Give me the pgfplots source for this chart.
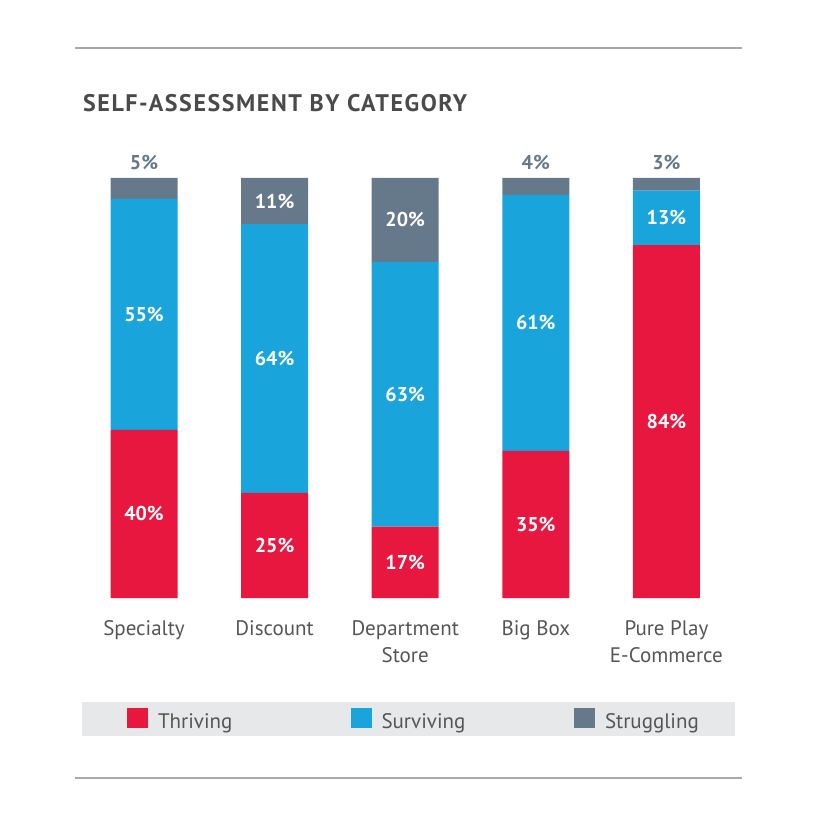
\documentclass[border=0pt]{standalone}
\usepackage{fontspec}
\setmainfont{PT Sans}
\newfontfamily\titlefont[LetterSpace=6.5]{PT Sans Bold}
\usepackage{pgfplots}
\pgfplotsset{compat=1.18}
\usepackage{pgfplotstable}

\definecolor{thriving}{HTML}{E8173F}
\definecolor{surviving}{HTML}{19A4DB}
\definecolor{struggling}{HTML}{66798B}
\definecolor{legendbg}{HTML}{E7E8EA}
\definecolor{titlegray}{HTML}{4A4A4A}
\definecolor{labelgray}{HTML}{555555}
\definecolor{rulegray}{HTML}{AAAAAA}

% share of respondents, per category
\pgfplotstableread{
x thriving surviving struggling
0 40 55 5
1 25 64 11
2 17 63 20
3 35 61 4
4 84 13 3
}\shares

% labels set inside the segments (y = middle of segment)
\pgfplotstableread{
x y v
0 20 40
0 67.5 55
1 12.5 25
1 57 64
1 94.5 11
2 8.5 17
2 48.5 63
2 90 20
3 17.5 35
3 65.5 61
4 42 84
4 90.5 13
}\inlabels

% small segments get their label above the bar
\pgfplotstableread{
x y v
0 103.8 5
3 103.8 4
4 103.8 3
}\toplabels

\begin{document}
\begin{tikzpicture}
\path (0pt,0pt) rectangle (830pt,825pt);
\draw[rulegray, line width=1.3pt] (75pt,777pt) -- (742pt,777pt);
\draw[rulegray, line width=1.3pt] (75pt,47pt) -- (742pt,47pt);
\node[anchor=base west, inner sep=0pt, text=titlegray,
      font=\fontsize{24}{28}\titlefont] at (83pt,713pt)
      {SELF-ASSESSMENT BY CATEGORY};
\fill[legendbg] (82pt,89pt) rectangle (735pt,123pt);

\begin{axis}[
    at={(78.7pt,227pt)}, anchor=south west,
    scale only axis, width=653pt, height=420pt,
    xmin=-0.5, xmax=4.5, ymin=0, ymax=100,
    ybar stacked, bar width=67pt,
    axis line style={draw=none}, tick style={draw=none},
    major tick length=0pt,
    ytick=\empty,
    xtick={0,1,2,3,4},
    xticklabels={Specialty,Discount,{Department\\Store},Big Box,{Pure Play\\E-Commerce}},
    xticklabel style={align=center, inner sep=0pt, anchor=north, yshift=-22pt,
        text=labelgray, font=\fontsize{21}{27}\selectfont},
    legend columns=3,
    legend cell align=left,
    legend style={at={(axis description cs:0.074,-0.288)}, anchor=west,
        draw=none, fill=none, inner sep=0pt, outer sep=0pt,
        text=labelgray, font=\fontsize{21}{25}\selectfont,
        nodes={inner sep=0pt},
        /tikz/every odd column/.append style={column sep=10pt}},
    legend image code/.code={\fill[#1] (0pt,-7pt) rectangle (21pt,13pt);},
]
\addplot[fill=thriving, draw=none] table[x=x, y=thriving] {\shares};
\addplot[fill=surviving, draw=none] table[x=x, y=surviving] {\shares};
\addplot[fill=struggling, draw=none] table[x=x, y=struggling] {\shares};
\legend{\makebox[192.5pt][l]{Thriving},\makebox[192.5pt][l]{Surviving},Struggling}
\end{axis}

\begin{axis}[
    at={(78.7pt,227pt)}, anchor=south west,
    scale only axis, width=653pt, height=420pt,
    xmin=-0.5, xmax=4.5, ymin=0, ymax=100,
    hide axis, clip=false,
    point meta=explicit,
    /pgf/number format/assume math mode=true,
    nodes near coords={\pgfmathprintnumber{\pgfplotspointmeta}\%},
]
\addplot[draw=none, mark=none, nodes near coords style={anchor=center,
    text=white, font=\fontsize{20}{24}\selectfont\bfseries}]
    table[x=x, y=y, meta=v] {\inlabels};
\addplot[draw=none, mark=none, nodes near coords style={anchor=center,
    text=struggling, font=\fontsize{20}{24}\selectfont\bfseries}]
    table[x=x, y=y, meta=v] {\toplabels};
\end{axis}
\end{tikzpicture}
\end{document}
